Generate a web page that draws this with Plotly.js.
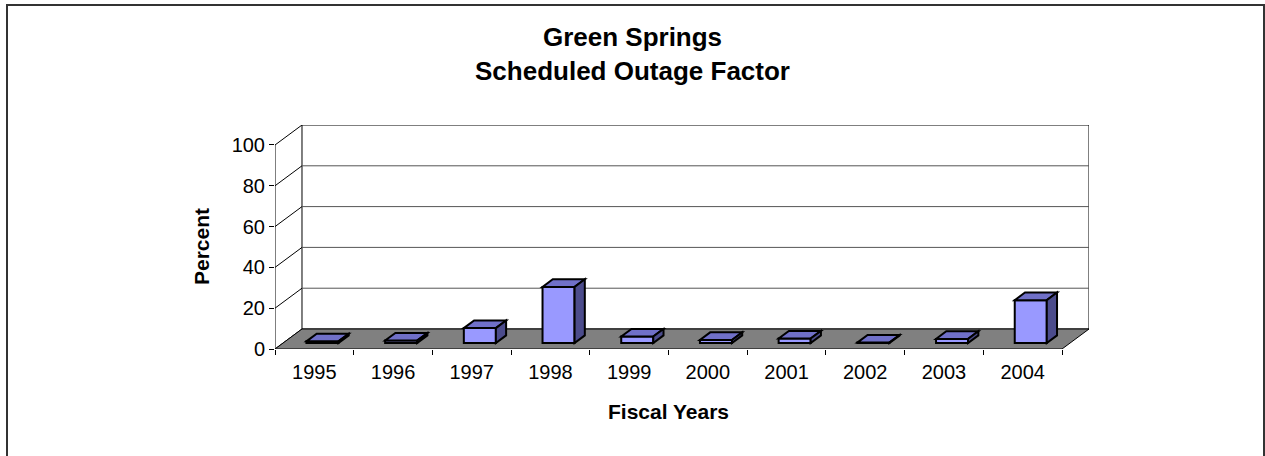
<!DOCTYPE html>
<html>
<head>
<meta charset="utf-8">
<script src="https://cdn.plot.ly/plotly-3.0.1.min.js"></script>
<style>
  html, body { margin: 0; padding: 0; background: #fff; }
  #chart { position: absolute; left: 0; top: 0; width: 1265px; height: 456px; }
  #frame { position: absolute; left: 6px; top: 4px; width: 1259px; height: 470px;
           border: 2px solid #333; pointer-events: none; box-sizing: border-box; }
</style>
</head>
<body>
<div id="chart"></div>
<div id="frame"></div>
<script>
// ---- data ----
const years = ["1995","1996","1997","1998","1999","2000","2001","2002","2003","2004"];
const outagePercent = [0.8, 1.2, 7.3, 27.5, 3.2, 1.5, 2.2, 0.2, 2.0, 21.0];
const yTicks = [0, 20, 40, 60, 80, 100];

// ---- 3D-look geometry (in axis units) ----
const depthX = 0.343;   // oblique depth along category axis
const depthY = 9.8;     // oblique depth along value axis
const f0 = 0.30, f1 = 0.68;  // bar front/back depth fractions
const barW = 0.407;
const yMax = 100;
const nCat = years.length;

const font = "Liberation Sans, Arial, sans-serif";
const shapes = [];
const L = -0.5, R = nCat - 0.5;

// back wall
shapes.push({type:'rect', xref:'x', yref:'y', layer:'below',
  x0: L + depthX, x1: R + depthX, y0: depthY, y1: yMax + depthY,
  fillcolor:'#ffffff', line:{color:'#000', width:1}});
// back wall gridlines + side wall diagonals
yTicks.forEach(v => {
  if (v > 0 && v < yMax) {
    shapes.push({type:'line', xref:'x', yref:'y', layer:'below',
      x0: L + depthX, x1: R + depthX, y0: v + depthY, y1: v + depthY,
      line:{color:'#555', width:1}});
  }
  shapes.push({type:'line', xref:'x', yref:'y', layer:'below',
    x0: L, x1: L + depthX, y0: v, y1: v + depthY, line:{color:'#000', width:1}});
});
// floor
shapes.push({type:'path', xref:'x', yref:'y', layer:'below',
  path: `M ${L} 0 L ${R} 0 L ${R + depthX} ${depthY} L ${L + depthX} ${depthY} Z`,
  fillcolor:'#808080', line:{color:'#000', width:1}});
// front value axis line
shapes.push({type:'line', xref:'x', yref:'y', layer:'above',
  x0: L, x1: L, y0: 0, y1: yMax, line:{color:'#000', width:1}});

// bar top and side faces
const ddx = (f1 - f0) * depthX, ddy = (f1 - f0) * depthY;
const base = f0 * depthY;
outagePercent.forEach((v, i) => {
  const xl = i - barW / 2 + f0 * depthX, xr = xl + barW;
  const top = base + v;
  shapes.push({type:'path', xref:'x', yref:'y', layer:'above',
    path: `M ${xl} ${top} L ${xr} ${top} L ${xr + ddx} ${top + ddy} L ${xl + ddx} ${top + ddy} Z`,
    fillcolor:'#7070C8', line:{color:'#000', width:2}});
  shapes.push({type:'path', xref:'x', yref:'y', layer:'above',
    path: `M ${xr} ${base} L ${xr} ${top} L ${xr + ddx} ${top + ddy} L ${xr + ddx} ${base + ddy} Z`,
    fillcolor:'#4C4C8C', line:{color:'#000', width:2}});
});

const trace = {
  type:'bar', x: years, y: outagePercent,
  base: base, width: barW, offset: -barW / 2 + f0 * depthX,
  marker:{color:'#9999FF', line:{color:'#000', width:2}},
  hoverinfo:'x+y'
};

const layout = {
  width:1265, height:456,
  margin:{l:275, r:176, t:125, b:107},
  paper_bgcolor:'#fff', plot_bgcolor:'rgba(0,0,0,0)',
  showlegend:false,
  font:{family:font, color:'#000'},
  title:{text:'<b>Green Springs</b><br><b>Scheduled Outage Factor</b>',
    font:{family:font, size:26, color:'#000'},
    x:0.5, xref:'container', y:1 - 46/456, yref:'container', yanchor:'top'},
  xaxis:{type:'category', range:[L, R + depthX], tickson:'boundaries',
    ticks:'outside', ticklen:5, tickcolor:'#000', showgrid:false, zeroline:false,
    showline:false, tickfont:{family:font, size:20, color:'#000'},
    ticklabelstandoff:9,
    automargin:false, fixedrange:true},
  yaxis:{range:[0, yMax + depthY], tickvals:yTicks, ticktext:yTicks.map(String),
    ticks:'outside', ticklen:5, tickcolor:'#000', showgrid:false, zeroline:false,
    showline:false, tickfont:{family:font, size:20, color:'#000'},
    automargin:false, fixedrange:true},
  annotations:[
    {text:'<b>Percent</b>', xref:'paper', yref:'y', x:(201 - 275) / 814, y:yMax / 2,
     xanchor:'center', yanchor:'middle', textangle:-90, showarrow:false,
     font:{family:font, size:21, color:'#000'}},
    {text:'<b>Fiscal Years</b>', xref:'x', yref:'paper', x:(nCat - 1) / 2, y:-(411 - 349) / 224,
     xanchor:'center', yanchor:'middle', showarrow:false,
     font:{family:font, size:21, color:'#000'}}
  ],
  shapes: shapes
};

Plotly.newPlot('chart', [trace], layout, {displayModeBar:false, staticPlot:true});
</script>
</body>
</html>
